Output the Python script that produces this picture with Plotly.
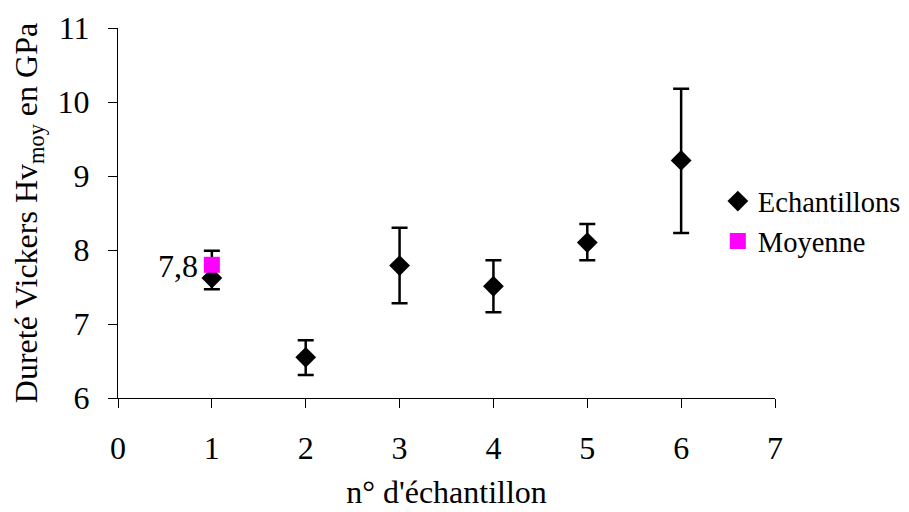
import plotly.graph_objects as go

samples = [1, 2, 3, 4, 5, 6]
hardness = [7.62, 6.55, 7.79, 7.51, 8.10, 9.21]
err_plus = [0.37, 0.23, 0.51, 0.35, 0.25, 0.97]
err_minus = [0.15, 0.24, 0.51, 0.35, 0.24, 0.98]
mean_x = [1]
mean_y = [7.8]
mean_label = "7,8"
x_ticks = [0, 1, 2, 3, 4, 5, 6, 7]
y_ticks = [6, 7, 8, 9, 10, 11]

FONT = "Liberation Serif, Times New Roman, serif"
FS = 32

fig = go.Figure()
fig.add_trace(go.Scatter(
    x=samples, y=hardness, mode="markers", name="Echantillons",
    marker=dict(symbol="diamond", size=16, color="black"),
    error_y=dict(type="data", symmetric=False, array=err_plus, arrayminus=err_minus,
                 visible=True, color="black", thickness=2.5, width=8),
))
fig.add_trace(go.Scatter(
    x=mean_x, y=mean_y, mode="markers", name="Moyenne",
    marker=dict(symbol="square", size=16, color="#FF00FF"),
))
fig.add_annotation(x=mean_x[0], y=mean_y[0], text=mean_label, showarrow=False,
                   xanchor="right", yanchor="middle", xshift=-12, yshift=-1,
                   font=dict(family=FONT, size=FS, color="black"))

# the page body has an 8px default margin; margins are set so the plot area
# lands at x 118..775, y 28..398 in the 909x512 window
fig.update_layout(
    width=909, height=512,
    margin=dict(l=110, r=142, t=20, b=122, autoexpand=False),
    paper_bgcolor="white", plot_bgcolor="white",
    font=dict(family=FONT, size=FS, color="black"),
    legend=dict(x=0.913, y=0.6, xanchor="left", yanchor="top",
                font=dict(family=FONT, size=28.5), bgcolor="rgba(0,0,0,0)"),
)
fig.update_xaxes(range=[0, 7], tickvals=x_ticks, showgrid=False, zeroline=False,
                 automargin=False,
                 showline=True, linecolor="black", linewidth=1,
                 ticks="outside", ticklen=9, tickcolor="black", ticklabelstandoff=13,
                 tickfont=dict(family=FONT, size=FS),
                 title=dict(text="n° d'échantillon", font=dict(family=FONT, size=FS), standoff=15))
fig.update_yaxes(range=[6, 11], tickvals=y_ticks, showgrid=False, zeroline=False,
                 automargin=False,
                 showline=True, linecolor="black", linewidth=1,
                 ticks="outside", ticklen=9, tickcolor="black", ticklabelstandoff=12,
                 tickfont=dict(family=FONT, size=FS),
                 title=dict(text="Dureté Vickers Hv<sub>moy</sub> en GPa",
                            font=dict(family=FONT, size=FS), standoff=14))

fig.write_html("out.html")
